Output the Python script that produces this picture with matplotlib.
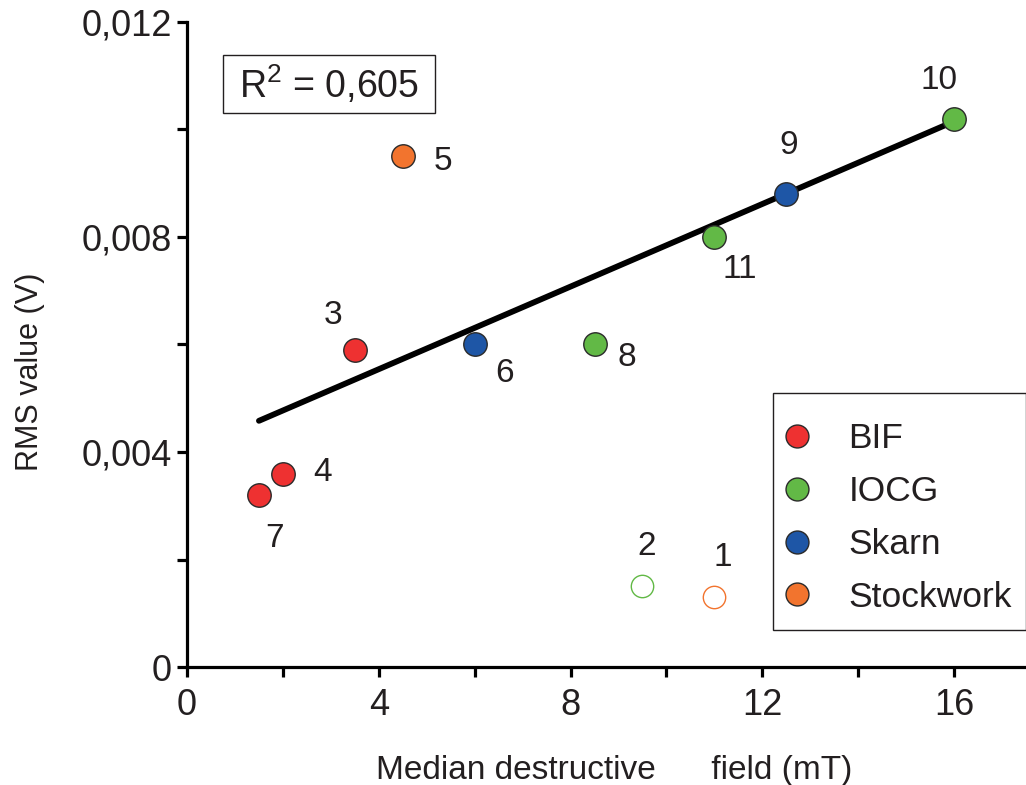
import numpy as np
import matplotlib
matplotlib.use("Agg")
import matplotlib.pyplot as plt
from matplotlib.ticker import MultipleLocator, FuncFormatter
from matplotlib.lines import Line2D
from matplotlib.patches import Rectangle

# ---- data ----
sample_ids = ["1", "2", "3", "4", "5", "6", "7", "8", "9", "10", "11"]
field_mT = [11.0, 9.5, 3.5, 2.0, 4.5, 6.0, 1.5, 8.5, 12.5, 16.0, 11.0]
rms_V = [0.0013, 0.0015, 0.0059, 0.0036, 0.0095, 0.0060, 0.0032, 0.0060, 0.0088, 0.0102, 0.0080]
deposit = ["Stockwork", "IOCG", "BIF", "BIF", "Stockwork", "Skarn", "BIF", "IOCG", "Skarn", "IOCG", "IOCG"]
outlier = [True, True, False, False, False, False, False, False, False, False, False]
categories = ["BIF", "IOCG", "Skarn", "Stockwork"]
r2_text = r"R$^{2}$ = 0,605"
x_ticks = [0, 4, 8, 12, 16]
y_ticks = [0, 0.004, 0.008, 0.012]

# ---- styles ----
colors = {"BIF": "#EE3131", "IOCG": "#62B946", "Skarn": "#1E56A6", "Stockwork": "#F2742E"}
label_offsets = {  # pixel offsets of the number labels
    "1": (8, 40), "2": (4, 40), "3": (-22, 34), "4": (40, 1), "5": (40, -5),
    "6": (30, -29), "7": (16, -43), "8": (32, -13), "9": (2, 48), "10": (-15, 38), "11": (25, -33),
}

fam = ["Liberation Sans", "DejaVu Sans"]
plt.rcParams["font.family"] = fam
plt.rcParams["mathtext.fontset"] = "custom"
plt.rcParams["mathtext.rm"] = "Liberation Sans"
plt.rcParams["mathtext.it"] = "Liberation Sans"

fig = plt.figure(figsize=(10.26, 7.85), dpi=100)
ax = fig.add_axes([0.1823, 0.1503, 0.8177, 0.8217])

# regression line on the filled points
fx = np.array([x for x, o in zip(field_mT, outlier) if not o])
fy = np.array([y for y, o in zip(rms_V, outlier) if not o])
slope, inter = np.polyfit(fx, fy, 1)
lx = np.array([fx.min(), fx.max()])
ax.plot(lx, slope * lx + inter, color="black", lw=4.2, solid_capstyle="round", zorder=2)

for sid, x, y, d, o in zip(sample_ids, field_mT, rms_V, deposit, outlier):
    if o:
        ax.scatter(x, y, s=260, facecolor="white", edgecolor=colors[d], linewidth=1.0, zorder=3)
    else:
        ax.scatter(x, y, s=285, facecolor=colors[d], edgecolor="#2a2a2a", linewidth=1.0, zorder=3)
    ax.annotate(sid, (x, y), xytext=label_offsets[sid], textcoords="offset pixels",
                ha="center", va="center", fontsize=24, color="#231f20", zorder=4)

ax.set_xlim(0, 17.5)
ax.set_ylim(0, 0.012)
ax.set_xticks(x_ticks)
ax.set_yticks(y_ticks)
ax.xaxis.set_minor_locator(MultipleLocator(2))
ax.yaxis.set_minor_locator(MultipleLocator(0.002))
ax.yaxis.set_major_formatter(FuncFormatter(lambda v, p: "0" if v == 0 else f"{v:.3f}".replace(".", ",")))
for s in ["top", "right"]:
    ax.spines[s].set_visible(False)
for s in ["left", "bottom"]:
    ax.spines[s].set_linewidth(2.3)
ax.tick_params(which="both", direction="out", length=7, width=2.3, color="black")
ax.tick_params(axis="y", labelsize=26, pad=4, labelcolor="#231f20")
ax.tick_params(axis="x", labelsize=26, pad=8, labelcolor="#231f20")

ax.set_xlabel("Median destructive      field (mT)", fontsize=24, color="#231f20")
ax.xaxis.set_label_coords(0.509, -0.16)
ax.xaxis.label.set_va("center")
ax.set_ylabel("RMS value (V)", fontsize=22, color="#231f20")
ax.yaxis.set_label_coords(-0.187, 0.457)
ax.yaxis.label.set_va("center")

ax.add_patch(Rectangle((0.0429, 0.859), 0.2527, 0.090, transform=ax.transAxes, facecolor="white",
                       edgecolor="#231f20", linewidth=1.0, zorder=5))
ax.text(0.169, 0.903, r2_text, transform=ax.transAxes, fontsize=27, color="#231f20",
        va="center", ha="center", zorder=6)

# legend: frame drawn separately
ax.add_patch(Rectangle((0.6985, 0.0574), 0.3015, 0.3674, transform=ax.transAxes, facecolor="white",
                       edgecolor="#231f20", linewidth=1.0, zorder=5, clip_on=False))
handles = [Line2D([], [], ls="none", marker="o", markersize=16.5, markerfacecolor=colors[c],
                  markeredgecolor="#2a2a2a", markeredgewidth=1.0, label=c) for c in categories]
leg = ax.legend(handles=handles, loc="center left", bbox_to_anchor=(0.702, 0.231), fontsize=25.5,
                frameon=False, borderpad=0, labelspacing=0.56, handletextpad=0.85,
                handlelength=1.2, borderaxespad=0)
leg.set_zorder(6)
for t in leg.get_texts():
    t.set_color("#231f20")

fig.savefig("out.png", dpi=100)
